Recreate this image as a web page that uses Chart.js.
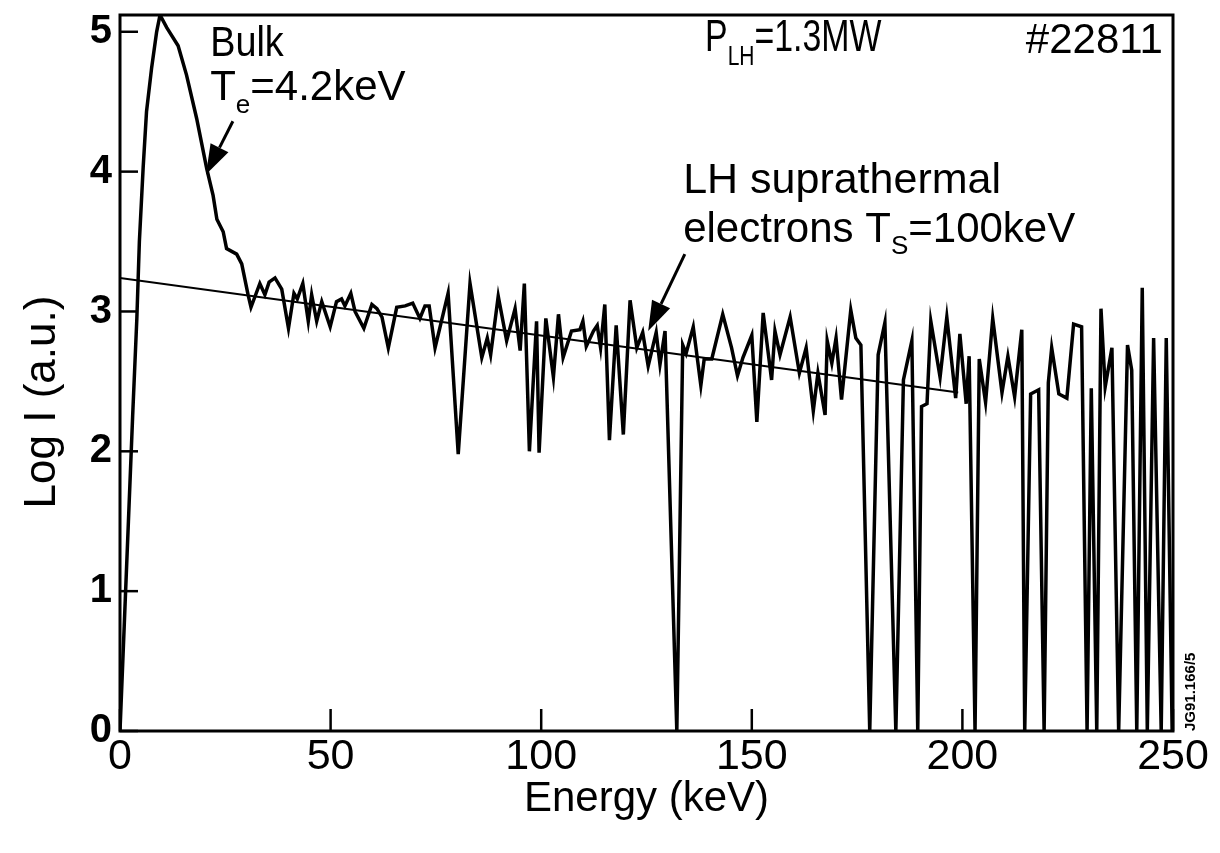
<!DOCTYPE html>
<html>
<head>
<meta charset="utf-8">
<script src="https://cdn.jsdelivr.net/npm/chart.js@4.4.1/dist/chart.umd.min.js"></script>
<style>
  html, body { margin: 0; padding: 0; background: #fff; }
  #wrap { width: 1220px; height: 853px; }
</style>
</head>
<body>
<div id="wrap"><canvas id="myChart" width="1220" height="853"></canvas></div>
<script>
// spectrum (keV, log I)
const energy = [
  0, 1, 2, 3, 4, 4.6, 5.5, 6.3, 7.5, 8.7, 9.5, 11.1, 13.8, 15.8, 18.2, 20.6, 22.1, 23.0, 24.5, 25.3,
  27.7, 28.9, 30.4, 31.1, 33.2, 34.4, 35.4, 36.8, 38.4, 40.0, 41.3, 42.1, 43.4, 44.7, 45.5, 46.7, 47.9, 49.9,
  51.4, 52.6, 53.4, 54.8, 55.8, 57.9, 59.8, 61.0, 62.2, 63.7, 65.7, 67.7, 69.5, 71.2, 72.4, 73.4, 74.8,
  77.9, 80.3, 83.1, 85.9, 87.2, 88.0, 89.8, 91.8, 93.8, 95.0, 96.0, 97.2, 98.9, 99.5, 101.1, 102.9, 104.1,
  105.2, 107.2, 109.2, 109.9, 110.7, 112.4, 113.3, 114.1, 115.1, 116.2, 117.8, 119.5, 121.1, 122.7, 124.1,
  125.4, 127.3, 128.2, 129.4, 132.2, 133.6, 134.4, 136.1, 137.9, 138.7, 140.5, 143.1, 145.2, 146.6, 147.9,
  150.0, 151.2, 152.7, 154.7, 155.5, 156.7, 159.1, 161.3, 162.9, 164.6, 165.7, 167.4, 167.9, 169.0, 170.0,
  171.3, 173.5, 174.7, 175.9, 178.0, 180.0, 181.6, 184.2, 186.0, 188.0, 189.4, 190.3, 191.6, 192.5, 194.7,
  196.3, 198.4, 199.4, 200.9, 201.6, 203.0, 204.0, 205.5, 207.2, 209.4, 210.8, 212.4, 214.1, 214.8, 216.2,
  218.1, 219.4, 220.4, 221.2, 222.9, 224.8, 226.4, 228.3, 229.6, 230.6, 231.9, 232.9, 233.9, 235.5, 237.1,
  239.2, 240.2, 241.4, 242.7, 243.9, 245.4, 247.2, 248.4, 249.8
];
const logI = [
  0, 0.75, 1.5, 2.25, 2.95, 3.5, 4.03, 4.43, 4.74, 5.0, 5.12, 5.03, 4.9, 4.69, 4.38, 4.02, 3.83, 3.66, 3.57, 3.45,
  3.41, 3.34, 3.12, 3.03, 3.20, 3.12, 3.21, 3.24, 3.16, 2.88, 3.13, 3.09, 3.20, 2.93, 3.12, 2.93, 3.07, 2.89,
  3.07, 3.09, 3.04, 3.13, 3.00, 2.88, 3.05, 3.02, 2.96, 2.74, 3.03, 3.04, 3.06, 2.95, 3.04, 3.04, 2.74,
  3.13, 1.98, 3.20, 2.67, 2.81, 2.69, 3.11, 2.79, 3.02, 2.72, 3.20, 2.00, 2.93, 1.99, 2.95, 2.53, 2.98,
  2.67, 2.86, 2.87, 2.93, 2.75, 2.86, 2.90, 2.74, 3.05, 2.08, 2.90, 2.12, 3.08, 2.74, 2.85,
  2.61, 2.85, 2.62, 2.86, 0, 2.76, 2.70, 2.89, 2.47, 2.66, 2.66, 2.98, 2.74, 2.54, 2.67,
  2.83, 2.21, 2.99, 2.51, 2.86, 2.69, 2.96, 2.56, 2.74, 2.29, 2.56, 2.26, 2.79, 2.63, 2.81,
  2.37, 3.01, 2.81, 2.76, 0, 2.69, 2.92, 0, 2.51, 2.79, 0, 2.32, 2.34, 2.93, 2.53,
  2.96, 2.38, 2.84, 2.34, 2.68, 0, 2.66, 2.35, 2.95, 2.42, 2.68, 2.39, 2.87, 0, 2.41,
  2.44, 0, 2.49, 2.74, 2.41, 2.38, 2.91, 2.89, 0, 2.45, 0, 3.02, 2.46, 2.74, 0,
  2.76, 2.58, 0, 3.17, 0, 2.81, 0, 2.81, 0
];
// straight-line fit, T_s = 100 keV
const fitEnergy = [0, 199];
const fitLogI = [3.24, 2.42];

const xTicks = [0, 50, 100, 150, 200, 250];
const yTicks = [0, 1, 2, 3, 4, 5];

const FONT = "'Liberation Sans', Arial, Helvetica, sans-serif";

// text with subscripts; squeeze narrows the lettering horizontally
function drawRich(ctx, x, y, parts, size, align, squeeze) {
  squeeze = squeeze || 1;
  ctx.textBaseline = "alphabetic";
  ctx.textAlign = "left";
  let total = 0;
  parts.forEach(p => {
    ctx.font = (p.sub ? size * 0.62 : size) + "px " + FONT;
    total += ctx.measureText(p.t).width;
  });
  ctx.save();
  ctx.translate(align === "right" ? x - total * squeeze : x, y);
  ctx.scale(squeeze, 1);
  let cx = 0;
  parts.forEach(p => {
    ctx.font = (p.sub ? size * 0.62 : size) + "px " + FONT;
    ctx.fillText(p.t, cx, p.sub ? size * 0.3 : 0);
    cx += ctx.measureText(p.t).width;
  });
  ctx.restore();
}

function arrow(ctx, x1, y1, x2, y2) {
  const a = Math.atan2(y2 - y1, x2 - x1);
  const len = 30, half = 10;
  const bx = x2 - len * Math.cos(a), by = y2 - len * Math.sin(a);
  ctx.beginPath();
  ctx.moveTo(x1, y1);
  ctx.lineTo(bx, by);
  ctx.lineWidth = 3;
  ctx.stroke();
  ctx.beginPath();
  ctx.moveTo(x2, y2);
  ctx.lineTo(bx + half * Math.sin(a), by - half * Math.cos(a));
  ctx.lineTo(bx - half * Math.sin(a), by + half * Math.cos(a));
  ctx.closePath();
  ctx.fill();
}

const frame = {
  id: "frame",
  afterDraw(chart) {
    const ctx = chart.ctx;
    const a = chart.chartArea;
    const xs = chart.scales.x, ys = chart.scales.y;
    ctx.save();
    ctx.strokeStyle = "#000";
    ctx.fillStyle = "#000";
    ctx.lineWidth = 3;
    ctx.strokeRect(a.left, a.top, a.right - a.left, a.bottom - a.top);
    // inward tick marks
    ctx.lineWidth = 2.5;
    yTicks.forEach(v => {
      const py = ys.getPixelForValue(v);
      ctx.beginPath(); ctx.moveTo(a.left, py); ctx.lineTo(a.left + 18, py); ctx.stroke();
    });
    xTicks.forEach(v => {
      const px = xs.getPixelForValue(v);
      ctx.beginPath(); ctx.moveTo(px, a.bottom); ctx.lineTo(px, a.bottom - 22); ctx.stroke();
    });
    // y axis title
    ctx.save();
    ctx.translate(43, (a.top + a.bottom) / 2 + 29);
    ctx.rotate(-Math.PI / 2);
    ctx.font = "44px " + FONT;
    ctx.textAlign = "center";
    ctx.textBaseline = "middle";
    ctx.fillText("Log I (a.u.)", 0, 0);
    ctx.restore();
    // labels
    const X = v => xs.getPixelForValue(v), Y = v => ys.getPixelForValue(v);
    drawRich(ctx, X(21.4), Y(4.83), [{t: "Bulk"}], 43, "left", 0.88);
    drawRich(ctx, X(21.4), Y(4.51), [{t: "T"}, {t: "e", sub: true}, {t: "=4.2keV"}], 42);
    drawRich(ctx, X(138.9), Y(4.86), [{t: "P"}, {t: "LH", sub: true}, {t: "=1.3MW"}], 44, "left", 0.77);
    drawRich(ctx, X(247.6), Y(4.85), [{t: "#22811"}], 42, "right");
    drawRich(ctx, X(133.7), Y(3.85), [{t: "LH suprathermal"}], 43);
    drawRich(ctx, X(133.7), Y(3.50), [{t: "electrons T"}, {t: "S", sub: true}, {t: "=100keV"}], 42);
    arrow(ctx, X(26.8), Y(4.36), X(20.4), Y(3.98));
    arrow(ctx, X(134.1), Y(3.41), X(125.4), Y(2.86));
    // figure reference, rotated
    ctx.save();
    ctx.translate(a.right + 18, a.bottom);
    ctx.rotate(-Math.PI / 2);
    ctx.font = "bold 15px " + FONT;
    ctx.textBaseline = "middle";
    ctx.textAlign = "left";
    ctx.fillText("JG91.166/5", 0, 0);
    ctx.restore();
    ctx.restore();
  }
};

const ctx = document.getElementById("myChart").getContext("2d");
const myChart = new Chart(ctx, {
  type: "line",
  data: {
    datasets: [
      {
        label: "Spectrum",
        data: energy.map((e, i) => ({x: e, y: logI[i]})),
        borderColor: "#000",
        borderWidth: 3.5,
        pointRadius: 0,
        tension: 0,
        fill: false,
      },
      {
        label: "Fit",
        data: fitEnergy.map((e, i) => ({x: e, y: fitLogI[i]})),
        borderColor: "#000",
        borderWidth: 2,
        pointRadius: 0,
        fill: false,
      }
    ],
  },
  options: {
    responsive: false,
    animation: false,
    devicePixelRatio: 1,
    layout: { padding: { top: 15, right: 47, left: 0, bottom: 0 } },
    plugins: { legend: { display: false }, tooltip: { enabled: false } },
    scales: {
      x: {
        type: "linear",
        min: 0,
        max: 250,
        afterBuildTicks: s => { s.ticks = xTicks.map(v => ({value: v})); },
        afterFit: s => { s.height = 122; s.paddingLeft = 0; s.paddingRight = 0; },
        grid: { display: false, drawTicks: false },
        border: { display: false },
        ticks: { color: "#000", font: { family: FONT, size: 43 }, padding: 0, maxRotation: 0, autoSkip: false },
        title: { display: true, text: "Energy (keV)", color: "#000", font: { family: FONT, size: 42 }, padding: { top: 0, bottom: 28 } }
      },
      y: {
        min: 0,
        max: 5.12,
        afterBuildTicks: s => { s.ticks = yTicks.map(v => ({value: v})); },
        afterFit: s => { s.width = 120; s.paddingTop = 0; s.paddingBottom = 0; },
        grid: { display: false, drawTicks: false },
        border: { display: false },
        ticks: { color: "#000", font: { family: FONT, size: 40, weight: "bold" }, padding: 8 },
        title: { display: false }
      }
    }
  },
  plugins: [frame]
});
</script>
</body>
</html>
